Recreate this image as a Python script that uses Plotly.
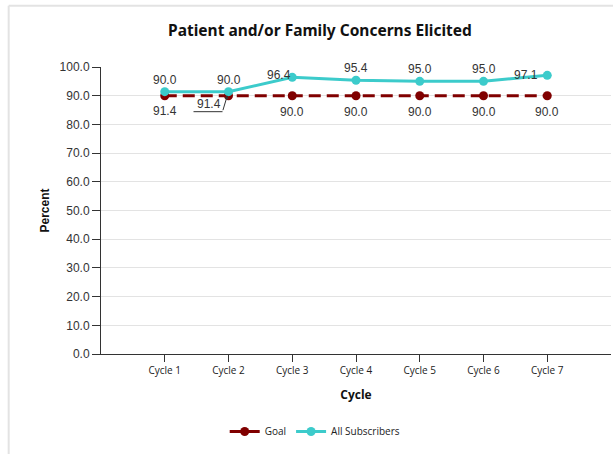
import plotly.graph_objects as go

categories = ["Cycle 1", "Cycle 2", "Cycle 3", "Cycle 4", "Cycle 5", "Cycle 6", "Cycle 7"]
goal = [90.0, 90.0, 90.0, 90.0, 90.0, 90.0, 90.0]
all_subscribers = [91.4, 91.4, 96.4, 95.4, 95.0, 95.0, 97.1]
y_ticks = [0, 10, 20, 30, 40, 50, 60, 70, 80, 90, 100]

x_pos = list(range(1, len(categories) + 1))

# label offsets (px) : style only; None = callout label
goal_label_shift = [(0, 16), (0, 16), (0, -16), (0, -16), (0, -16), (0, -16), (0, -16)]
subs_label_shift = [(0, -19), None, (-13, 2), (0, 12), (0, 12), (0, 12), (-21, 0)]

GOAL_COLOR = "#800000"
SUBS_COLOR = "#3CCBCB"
LABEL_FONT = dict(family="Liberation Sans, Arial", size=12, color="#333333")

fig = go.Figure()
fig.add_trace(go.Scatter(
    x=x_pos, y=goal, name="Goal", mode="lines+markers",
    line=dict(color=GOAL_COLOR, width=3, dash="12px,6px"),
    marker=dict(color=GOAL_COLOR, size=9),
))
fig.add_trace(go.Scatter(
    x=x_pos, y=all_subscribers, name="All Subscribers", mode="lines+markers",
    line=dict(color=SUBS_COLOR, width=3),
    marker=dict(color=SUBS_COLOR, size=9),
))

annotations = []
shapes = []
for xi, v, sh in zip(x_pos, goal, goal_label_shift):
    annotations.append(dict(x=xi, y=v, text=f"{v:.1f}", showarrow=False,
                            xshift=sh[0], yshift=sh[1], font=LABEL_FONT))
for xi, v, sh in zip(x_pos, all_subscribers, subs_label_shift):
    if sh is None:
        # callout: text, underline and leader arrow
        annotations.append(dict(x=xi, y=v, text=f"{v:.1f}", showarrow=False,
                                xshift=-20, yshift=-12, font=LABEL_FONT))
        annotations.append(dict(x=xi, y=v, text="", showarrow=True,
                                arrowhead=2, arrowsize=0.7, arrowwidth=1,
                                arrowcolor="#333333", ax=-6, ay=20, standoff=4))
        shapes.append(dict(type="line", xref="x", yref="y",
                           xsizemode="pixel", ysizemode="pixel",
                           xanchor=xi, yanchor=v,
                           x0=-35, x1=-6, y0=-20, y1=-20,
                           line=dict(color="#333333", width=1)))
    else:
        annotations.append(dict(x=xi, y=v, text=f"{v:.1f}", showarrow=False,
                                xshift=sh[0], yshift=sh[1], font=LABEL_FONT))

shapes += [
    dict(type="line", xref="paper", yref="paper", x0=-0.181, x1=1.01, y0=1.213, y1=1.213,
         line=dict(color="#E3E3E3", width=2)),
    dict(type="line", xref="paper", yref="paper", x0=-0.181, x1=-0.181, y0=1.213, y1=-0.35,
         line=dict(color="#E3E3E3", width=2)),
]

fig.update_layout(
    width=613, height=454,
    margin=dict(l=101, r=2, t=67, b=100, autoexpand=False),
    paper_bgcolor="white", plot_bgcolor="white",
    title=dict(text="<b>Patient and/or Family Concerns Elicited</b>",
               x=0.522, xanchor="center", y=0.932, yanchor="middle",
               font=dict(family="Noto Sans, Open Sans", size=15.5, color="#111111")),
    xaxis=dict(
        range=[0, 8], tickvals=x_pos, ticktext=categories, automargin=False,
        showgrid=False, zeroline=False,
        showline=True, linecolor="#333333", linewidth=1,
        ticks="outside", ticklen=7, tickcolor="#333333",
        tickfont=dict(family="Open Sans", size=10, color="#222222"),
        title=dict(text="<b>Cycle</b>", standoff=14,
                   font=dict(family="Open Sans", size=12, color="#111111")),
    ),
    yaxis=dict(
        range=[0, 100], tickvals=y_ticks, tickformat=".1f", automargin=False,
        showgrid=True, gridcolor="#E3E3E3", gridwidth=1, zeroline=False,
        showline=True, linecolor="#333333", linewidth=1,
        ticks="outside", ticklen=8, tickcolor="#333333",
        tickfont=dict(family="Liberation Sans, Arial", size=12, color="#333333"),
        title=dict(text="<b>Percent</b>", standoff=7,
                   font=dict(family="Liberation Sans, Arial", size=12, color="#111111")),
    ),
    legend=dict(orientation="h", x=0.42, xanchor="center", y=-0.27, yanchor="middle",
                font=dict(family="Open Sans", size=10, color="#222222")),
    annotations=annotations,
    shapes=shapes,
    showlegend=True,
)

fig.write_html("out.html", config={"displayModeBar": False},
               post_script="document.body.style.margin='0';")
